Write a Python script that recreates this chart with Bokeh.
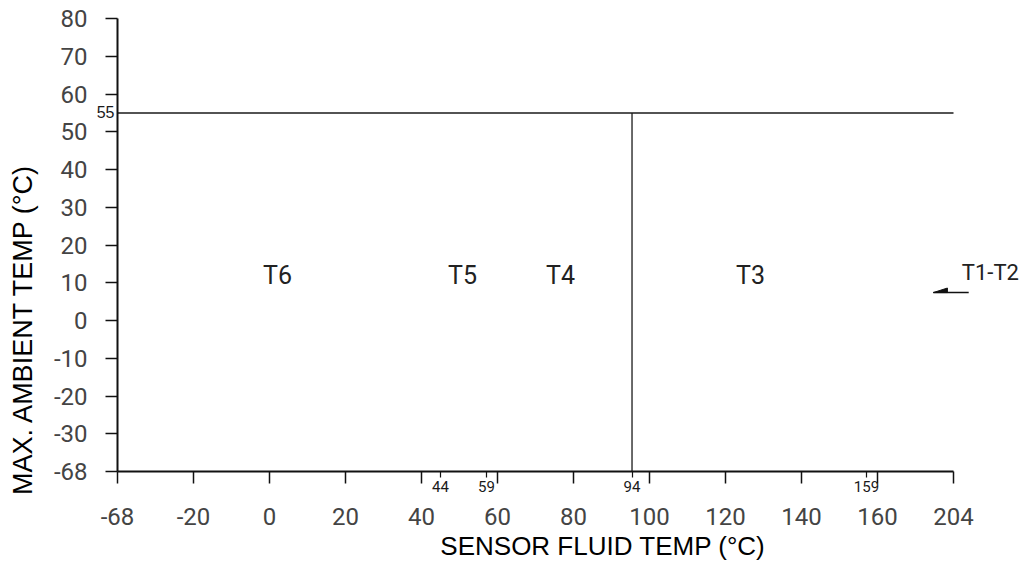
from math import pi
from bokeh.plotting import figure
from bokeh.models import Range1d, FixedTicker, Label, LabelSet, ColumnDataSource
from bokeh.core.properties import value
from bokeh.embed import file_html
from bokeh.resources import INLINE

# ---- data ----
x_ticks = [-40, -20, 0, 20, 40, 60, 80, 100, 120, 140, 160, 180]
x_tick_labels = ["-68", "-20", "0", "20", "40", "60", "80", "100", "120", "140", "160", "204"]
y_ticks = [-40, -30, -20, -10, 0, 10, 20, 30, 40, 50, 60, 70, 80]
y_tick_labels = ["-68", "-30", "-20", "-10", "0", "10", "20", "30", "40", "50", "60", "70", "80"]

marker_pos = [45.0, 57.1, 95.4, 157.1]      # where the small marks are drawn
marker_text = ["44", "59", "94", "159"]

limit_ambient = 55          # horizontal limit line
limit_fluid = 95.4          # vertical divider (labelled 94)

zone_names = ["T6", "T5", "T4", "T3"]
zone_x = [2.1, 50.8, 76.6, 126.6]
zone_y = [11.8, 11.8, 11.8, 11.8]

t12_name = "T1-T2"
t12_x = 189.7
t12_y = 12.6
arrow_x = [184.0, 174.7]
arrow_y = [7.4, 7.4]
arrow_head_x = [174.7, 178.4, 178.4]
arrow_head_y = [7.4, 8.6, 7.4]

x_lo, x_hi = x_ticks[0], x_ticks[-1]
y_lo, y_hi = y_ticks[0], y_ticks[-1]

# ---- layout: the frame fills the whole canvas; axes sit at fixed data locations ----
W, H = 1020, 560
AX_LEFT_PX, AX_BOTTOM_PX = 117, 471     # pixel position of the axis corner
px_per_x = 3.8
px_per_y = 3.775


def dx(px):      # horizontal pixel -> data
    return x_lo + (px - AX_LEFT_PX) / px_per_x


def dy(py):      # vertical pixel -> data
    return y_lo + (AX_BOTTOM_PX - py) / px_per_y


p = figure(width=W, height=H, output_backend="svg", toolbar_location=None,
           x_range=Range1d(dx(0), dx(W)), y_range=Range1d(dy(H), dy(0)),
           min_border=0, min_border_left=0, min_border_right=0,
           min_border_top=0, min_border_bottom=0)
p.outline_line_color = None
p.xgrid.visible = False
p.ygrid.visible = False
p.background_fill_color = "white"
p.border_fill_color = "white"

TICK_FONT = "Roboto"
TITLE_FONT = "Liberation Sans"
INK = "#111111"
TICK_TEXT = "#444444"

# x axis
xa = p.xaxis[0]
xa.fixed_location = y_lo
xa.ticker = FixedTicker(ticks=x_ticks, minor_ticks=marker_pos)
xa.major_label_overrides = {t: l for t, l in zip(x_ticks, x_tick_labels)}
xa.bounds = (x_lo, x_hi)
xa.axis_line_width = 2
xa.axis_line_color = INK
xa.major_tick_line_color = INK
xa.major_tick_line_width = 1.5
xa.major_tick_out = 12
xa.major_tick_in = 0
xa.minor_tick_line_color = INK
xa.minor_tick_line_width = 1.2
xa.minor_tick_out = 6
xa.minor_tick_in = 0
xa.major_label_text_font = TICK_FONT
xa.major_label_text_font_size = "24px"
xa.major_label_text_color = TICK_TEXT
xa.major_label_standoff = 24

# y axis
ya = p.yaxis[0]
ya.fixed_location = x_lo
ya.ticker = FixedTicker(ticks=y_ticks, minor_ticks=[])
ya.major_label_overrides = {t: l for t, l in zip(y_ticks, y_tick_labels)}
ya.bounds = (y_lo, y_hi)
ya.axis_line_width = 2
ya.axis_line_color = INK
ya.major_tick_line_color = INK
ya.major_tick_line_width = 1.5
ya.major_tick_out = 12
ya.major_tick_in = 0
ya.minor_tick_line_color = None
ya.major_label_text_font = TICK_FONT
ya.major_label_text_font_size = "24px"
ya.major_label_text_color = TICK_TEXT
ya.major_label_standoff = 18

# limit lines
p.line([x_lo, x_hi], [limit_ambient, limit_ambient], line_color="#1a1a1a", line_width=1.5)
p.line([limit_fluid, limit_fluid], [y_lo, limit_ambient], line_color="#1a1a1a", line_width=1.3)

# arrow for T1-T2
p.line(arrow_x, arrow_y, line_color=INK, line_width=1.5)
p.patch(arrow_head_x, arrow_head_y, fill_color=INK, line_color=INK, line_width=1)

# zone labels
for name, zx, zy in zip(zone_names, zone_x, zone_y):
    p.add_layout(Label(x=zx, y=zy, text=name, text_align="center", text_baseline="middle",
                       text_font=TICK_FONT, text_font_size="25px", text_color="#222222"))
p.add_layout(Label(x=t12_x, y=t12_y, text=t12_name, text_align="center", text_baseline="middle",
                   text_font=TICK_FONT, text_font_size="22px", text_color="#222222"))

# limit value label
p.add_layout(Label(x=x_lo, y=limit_ambient, text=str(limit_ambient), x_offset=-3, y_offset=1,
                   text_align="right", text_baseline="alphabetic",
                   text_font=TITLE_FONT, text_font_size="16px", text_color="#1a1a1a"))

# small marker labels under the axis
msrc = ColumnDataSource(dict(x=marker_pos, y=[y_lo] * len(marker_pos), text=marker_text))
p.add_layout(LabelSet(x="x", y="y", text="text", source=msrc, y_offset=-9,
                      text_align="center", text_baseline="top",
                      text_font=value(TICK_FONT), text_font_size=value("15px"),
                      text_color="#1a1a1a"))

# axis titles (placed like the reference, off-centre)
p.add_layout(Label(x=dx(602.5), y=dy(545),
                   text="SENSOR FLUID TEMP (°C)", text_align="center", text_baseline="middle",
                   text_font=TITLE_FONT, text_font_size="26px", text_color="#000000"))
p.add_layout(Label(x=dx(22), y=dy(328.5),
                   text="MAX. AMBIENT TEMP (°C)", angle=pi / 2, text_align="center",
                   text_baseline="middle",
                   text_font=TITLE_FONT, text_font_size="27px", text_color="#000000"))

open("out.html", "w").write(file_html(p, INLINE))
